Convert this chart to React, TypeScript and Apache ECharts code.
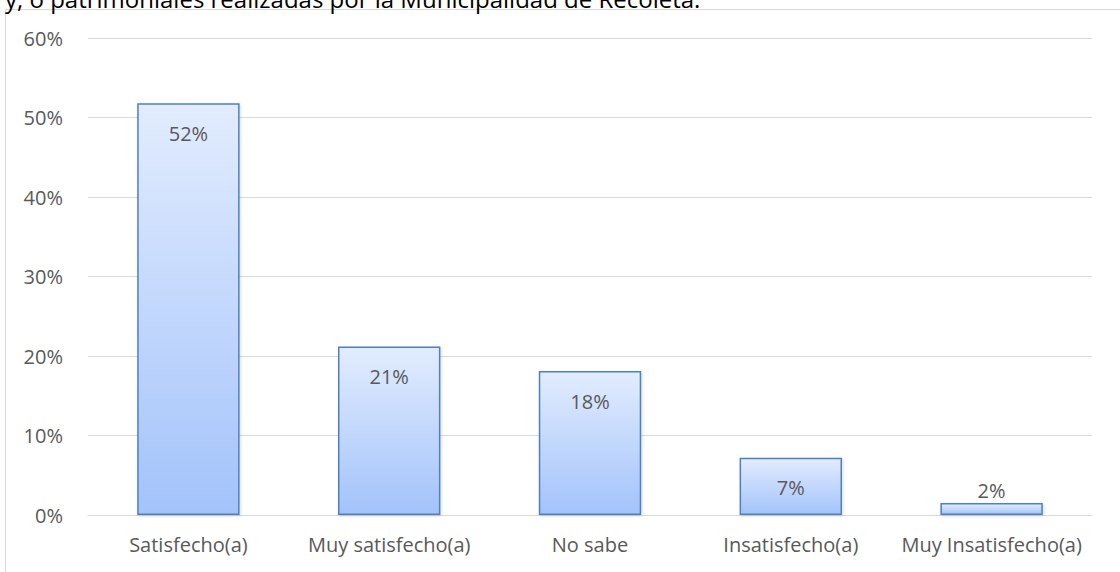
import React, { useEffect, useRef } from "react";
import * as echarts from "echarts";

const categories = ["Satisfecho(a)", "Muy satisfecho(a)", "No sabe", "Insatisfecho(a)", "Muy Insatisfecho(a)"];
const values = [51.8, 21.2, 18.1, 7.2, 1.5];
const labels = ["52%", "21%", "18%", "7%", "2%"];
const titleText = "y, o patrimoniales realizadas por la Municipalidad de Recoleta.";

const FONT = "'Open Sans', 'Noto Sans', sans-serif";

export default function App() {
  const ref = useRef<HTMLDivElement>(null);
  useEffect(() => {
    document.body.style.margin = "0";
    if (!ref.current) return;
    const chart = echarts.init(ref.current, null, { renderer: "svg" });
    const data = values.map((v) => ({
      value: v,
      label:
        v < 3
          ? { position: "top", distance: 3 }
          : { position: "insideTop", distance: 20 },
    }));
    chart.setOption({
      animation: false,
      backgroundColor: "#ffffff",
      graphic: [
        {
          type: "rect",
          shape: { x: 5.5, y: 9.5, width: 1300, height: 800 },
          style: { fill: "none", stroke: "#d9d9d9", lineWidth: 1 },
          z: -1,
        },
        {
          type: "text",
          x: 5,
          y: -2,
          style: { text: titleText, font: `24px ${FONT}`, fill: "#000000", verticalAlign: "middle" },
        },
      ],
      grid: { left: 88, right: 28, top: 38, bottom: 57 },
      xAxis: {
        type: "category",
        data: categories,
        axisTick: { show: false },
        axisLine: { lineStyle: { color: "#d9d9d9", width: 1 } },
        axisLabel: { color: "#595959", fontSize: 20, fontFamily: FONT, margin: 19, interval: 0 },
      },
      yAxis: {
        type: "value",
        min: 0,
        max: 60,
        interval: 10,
        axisLine: { show: false },
        axisTick: { show: false },
        splitLine: { lineStyle: { color: "#d9d9d9", width: 1 } },
        axisLabel: { color: "#595959", fontSize: 20, fontFamily: FONT, margin: 25, formatter: "{value}%" },
      },
      series: [
        {
          type: "bar",
          data,
          barWidth: "51%",
          itemStyle: {
            color: new echarts.graphic.LinearGradient(0, 0, 0, 1, [
              { offset: 0, color: "#e2ecfe" },
              { offset: 1, color: "#a3c3fb" },
            ]),
            borderColor: "#4f81bd",
            borderWidth: 1.5,
            shadowColor: "rgba(0,0,0,0.15)",
            shadowBlur: 3,
            shadowOffsetX: 1,
            shadowOffsetY: 1,
          },
          label: {
            show: true,
            color: "#595959",
            fontSize: 20,
            fontFamily: FONT,
            formatter: (p: any) => labels[p.dataIndex],
          },
        },
      ],
    });
    return () => chart.dispose();
  }, []);
  return <div ref={ref} style={{ width: 1120, height: 572 }} />;
}
